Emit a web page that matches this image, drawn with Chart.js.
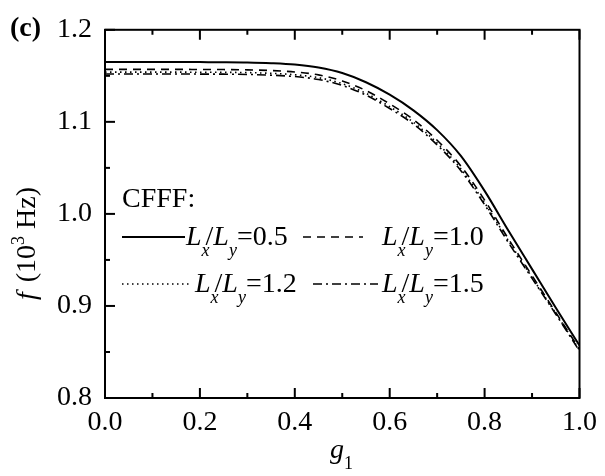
<!DOCTYPE html>
<html>
<head>
<meta charset="utf-8">
<style>
  html, body { margin: 0; padding: 0; background: #fff; }
  #wrap { width: 605px; height: 476px; }
</style>
<script src="https://cdn.jsdelivr.net/npm/chart.js@4.4.1/dist/chart.umd.min.js"></script>
</head>
<body>
<div id="wrap"><canvas id="chart"></canvas></div>
<script>
// g1 values (x axis)
var gValues = [0, 0.05, 0.1, 0.15, 0.2, 0.25, 0.3, 0.35, 0.4, 0.45, 0.5,
               0.55, 0.6, 0.65, 0.7, 0.75, 0.8, 0.85, 0.9, 0.95, 1.0];

// frequency f (10^3 Hz), CFFF, one array per Lx/Ly
var fRatio05 = [1.165, 1.165, 1.165, 1.165, 1.1649, 1.1648, 1.1645, 1.1637, 1.1622, 1.1590, 1.1530,
                1.1430, 1.1295, 1.1125, 1.0910, 1.0630, 1.0250, 0.9820, 0.9400, 0.8980, 0.8570];
var fRatio10 = [1.157, 1.157, 1.157, 1.157, 1.1569, 1.1568, 1.1565, 1.1557, 1.1542, 1.1510, 1.1445,
                1.1340, 1.1195, 1.1025, 1.0800, 1.0520, 1.0150, 0.9730, 0.9330, 0.8930, 0.8530];
var fRatio12 = [1.154, 1.154, 1.154, 1.154, 1.1539, 1.1538, 1.1535, 1.1527, 1.1512, 1.1480, 1.1415,
                1.1310, 1.1165, 1.0995, 1.0770, 1.0490, 1.0120, 0.9710, 0.9310, 0.8920, 0.8520];
var fRatio15 = [1.152, 1.152, 1.152, 1.152, 1.1519, 1.1518, 1.1515, 1.1507, 1.1492, 1.1460, 1.1395,
                1.1290, 1.1145, 1.0975, 1.0750, 1.0470, 1.0100, 0.9690, 0.9300, 0.8910, 0.8510];

var ratioLabels = ['0.5', '1.0', '1.2', '1.5'];
var xTicks = [0, 0.2, 0.4, 0.6, 0.8, 1.0];
var yTicks = [0.8, 0.9, 1.0, 1.1, 1.2];

var FONT = '"Liberation Serif", "Times New Roman", serif';
var dashes = [[], [8, 6], [1.5, 3.5], [9, 4, 2, 4]];
var widths = [2, 1.6, 1.6, 1.6];

function toPoints(ys) {
  return gValues.map(function (g, i) { return { x: g, y: ys[i] }; });
}

var series = [fRatio05, fRatio10, fRatio12, fRatio15];
var datasets = series.map(function (ys, i) {
  return {
    label: 'Lx/Ly=' + ratioLabels[i],
    data: toPoints(ys),
    borderColor: '#000',
    borderWidth: widths[i],
    borderDash: dashes[i],
    pointRadius: 0,
    fill: false,
    cubicInterpolationMode: 'monotone'
  };
});

// pieces of text with italic / sub / sup
function richText(ctx, x, y, parts, size) {
  parts.forEach(function (p) {
    var fs = p.sub || p.sup ? Math.round(size * 0.64) : size;
    ctx.font = (p.italic ? 'italic ' : '') + fs + 'px ' + FONT;
    var dy = p.sub ? size * 0.38 : (p.sup ? -size * 0.38 : 0);
    ctx.fillText(p.t, x, y + dy);
    x += ctx.measureText(p.t).width + (p.dx || 0);
  });
  return x;
}

function ratioParts(v) {
  return [
    { t: 'L', italic: true },
    { t: 'x', italic: true, sub: true, dx: -4 },
    { t: '/' },
    { t: 'L', italic: true },
    { t: 'y', italic: true, sub: true },
    { t: '=' + v }
  ];
}

var decor = {
  id: 'decor',
  afterDraw: function (chart) {
    var ctx = chart.ctx;
    var a = chart.chartArea;
    var xs = chart.scales.x, ys = chart.scales.y;
    ctx.save();
    ctx.strokeStyle = '#000';
    ctx.fillStyle = '#000';
    ctx.setLineDash([]);

    // frame
    ctx.lineWidth = 2;
    ctx.strokeRect(a.left, a.top, a.right - a.left, a.bottom - a.top);

    // inward ticks: bottom, top and left
    for (var i = 0; i <= 10; i++) {
      var px = xs.getPixelForValue(i / 10);
      var len = i % 2 === 0 ? 10 : 5;
      ctx.beginPath();
      ctx.moveTo(px, a.bottom); ctx.lineTo(px, a.bottom - len);
      ctx.moveTo(px, a.top); ctx.lineTo(px, a.top + len);
      ctx.stroke();
    }
    for (var j = 0; j <= 8; j++) {
      var py = ys.getPixelForValue(0.8 + j * 0.05);
      var ly = j % 2 === 0 ? 10 : 5;
      ctx.beginPath();
      ctx.moveTo(a.left, py); ctx.lineTo(a.left + ly, py);
      ctx.stroke();
    }

    // panel label
    ctx.textBaseline = 'alphabetic';
    ctx.textAlign = 'left';
    ctx.font = 'bold 28px ' + FONT;
    ctx.fillText('(c)', 10, 36);

    // x axis title
    richText(ctx, 330, 458, [{ t: 'g', italic: true }, { t: '1', sub: true }], 28);

    // y axis title (rotated)
    ctx.save();
    ctx.translate(35, 300);
    ctx.rotate(-Math.PI / 2);
    richText(ctx, 0, 0, [
      { t: 'f', italic: true, dx: 3 },
      { t: ' (10' },
      { t: '3', sup: true },
      { t: ' Hz)' }
    ], 28);
    ctx.restore();

    // legend
    ctx.font = '28px ' + FONT;
    ctx.fillText('CFFF:', 122, 207);
    var rows = [
      { x1: 122, x2: 185, y: 237, tx: 186, ty: 245, k: 0 },
      { x1: 303, x2: 363, y: 237, tx: 382, ty: 245, k: 1 },
      { x1: 122, x2: 192, y: 284, tx: 195, ty: 292, k: 2 },
      { x1: 313, x2: 378, y: 284, tx: 382, ty: 292, k: 3 }
    ];
    rows.forEach(function (r) {
      ctx.save();
      ctx.lineWidth = widths[r.k];
      ctx.setLineDash(dashes[r.k]);
      ctx.beginPath();
      ctx.moveTo(r.x1, r.y); ctx.lineTo(r.x2, r.y);
      ctx.stroke();
      ctx.restore();
      richText(ctx, r.tx, r.ty, ratioParts(ratioLabels[r.k]), 28);
    });

    ctx.restore();
  }
};

var ctx = document.getElementById('chart').getContext('2d');
var myChart = new Chart(ctx, {
  type: 'line',
  data: { datasets: datasets },
  options: {
    responsive: true,
    maintainAspectRatio: false,
    animation: false,
    layout: { padding: { left: 0, right: 18, top: 18, bottom: 0 } },
    plugins: { legend: { display: false }, tooltip: { enabled: false } },
    scales: {
      x: {
        type: 'linear',
        min: 0, max: 1,
        afterFit: function (s) { s.height = 78; },
        afterBuildTicks: function (s) { s.ticks = xTicks.map(function (v) { return { value: v }; }); },
        grid: { display: false, drawTicks: false },
        border: { display: false },
        ticks: {
          color: '#000',
          padding: 8,
          font: { family: FONT, size: 28 },
          callback: function (v) { return v.toFixed(1); }
        }
      },
      y: {
        type: 'linear',
        min: 0.8, max: 1.2,
        afterFit: function (s) { s.width = 105; },
        afterBuildTicks: function (s) { s.ticks = yTicks.map(function (v) { return { value: v }; }); },
        grid: { display: false, drawTicks: false },
        border: { display: false },
        ticks: {
          color: '#000',
          padding: 13,
          font: { family: FONT, size: 28 },
          callback: function (v) { return v.toFixed(1); }
        }
      }
    }
  },
  plugins: [decor]
});
</script>
</body>
</html>
